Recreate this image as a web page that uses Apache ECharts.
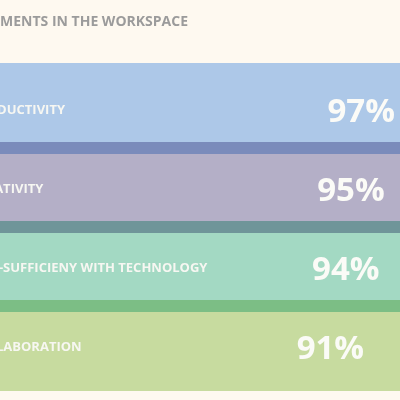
<!DOCTYPE html>
<html>
<head>
<meta charset="utf-8">
<script src="https://cdn.jsdelivr.net/npm/echarts@6/dist/echarts.min.js"></script>
<style>
html,body{margin:0;padding:0;background:#fef9f0;}
#chart{width:400px;height:400px;}
</style>
</head>
<body>
<div id="chart"></div>
<script>
const titleText = 'IMPROVEMENTS IN THE WORKSPACE';
const categories = ['PRODUCTIVITY', 'CREATIVITY', 'SELF-SUFFICIENY WITH TECHNOLOGY', 'COLLABORATION'];
const values = [97, 95, 94, 91];
const bandColors = ['#adc8e8', '#b4afc7', '#a3d9c3', '#c7db9f'];
const stripColors = ['#7a8bbb', '#6f9599', '#7cbe85', null];

const chart = echarts.init(document.getElementById('chart'), null, {renderer: 'canvas'});
const FONT = '"Open Sans", "DejaVu Sans", sans-serif';
const STRIP = 12;

chart.setOption({
  animation: false,
  backgroundColor: '#fef9f0',
  title: {
    text: titleText,
    right: 207,
    top: 10,
    textStyle: {color: '#9b9b9b', fontFamily: FONT, fontWeight: 700, fontSize: 14}
  },
  grid: {left: 0, right: 0, top: 75, bottom: 9},
  xAxis: {type: 'value', min: 20, max: 98, show: false},
  yAxis: {type: 'category', data: categories, inverse: true, show: false},
  series: [{
    type: 'custom',
    clip: false,
    encode: {x: 0, y: 1},
    data: values.map((v, i) => [v, i]),
    renderItem: function (params, api) {
      const i = params.dataIndex;
      const n = values.length;
      const c = api.coord([api.value(0), api.value(1)]);
      const s = api.size([0, 1])[1];
      const W = api.getWidth();
      const top = c[1] - s / 2 - (i === 0 ? STRIP : 0);
      const bottom = c[1] + s / 2;
      const lightBottom = i < n - 1 ? bottom - STRIP : bottom;
      const children = [
        {type: 'rect', shape: {x: 0, y: top, width: W, height: lightBottom - top}, style: {fill: bandColors[i]}}
      ];
      if (i < n - 1) {
        children.push({type: 'rect', shape: {x: 0, y: lightBottom, width: W, height: STRIP}, style: {fill: stripColors[i]}});
      }
      children.push({
        type: 'text', x: -30, y: c[1] - 4,
        style: {text: categories[i], fill: '#f7f7f2', font: '700 13px ' + FONT,
                align: 'left', verticalAlign: 'middle', textAlign: 'left', textVerticalAlign: 'middle'}
      });
      children.push({
        type: 'text', x: c[0], y: c[1] - 2,
        style: {text: values[i] + '%', fill: '#fbfbf7', font: '700 33px ' + FONT,
                align: 'right', verticalAlign: 'middle', textAlign: 'right', textVerticalAlign: 'middle'}
      });
      return {type: 'group', children: children};
    }
  }]
});
</script>
</body>
</html>
